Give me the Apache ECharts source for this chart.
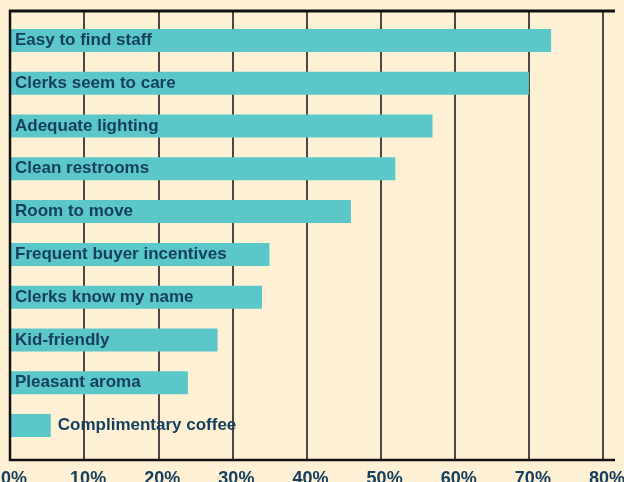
<!DOCTYPE html>
<html>
<head>
<meta charset="utf-8">
<script src="https://cdn.jsdelivr.net/npm/echarts@6/dist/echarts.min.js"></script>
<style>
  html, body { margin: 0; padding: 0; background: #fef0d4; }
  #chart { width: 624px; height: 482px; }
</style>
</head>
<body>
<div id="chart"></div>
<script>
// Store features shoppers value, share of respondents (%)
const features = [
  'Easy to find staff',
  'Clerks seem to care',
  'Adequate lighting',
  'Clean restrooms',
  'Room to move',
  'Frequent buyer incentives',
  'Clerks know my name',
  'Kid-friendly',
  'Pleasant aroma',
  'Complimentary coffee'
];
const shares = [73, 70, 57, 52, 46, 35, 34, 28, 24, 5.5];
const axisMax = 80;
const axisStep = 10;

const ink = '#173f60';
const teal = '#5bc7c9';
const font = 'Liberation Sans, Arial, sans-serif';

const chart = echarts.init(document.getElementById('chart'));

// Short bars carry their label outside, to the right
const barData = shares.map(v => ({
  value: v,
  label: v < 10
    ? { position: 'right', distance: 7 }
    : { position: 'insideLeft', distance: 5 }
}));

chart.setOption({
  backgroundColor: '#fef0d4',
  animation: false,
  grid: [
    // frame with vertical rules and percent scale
    { left: 10, right: 21, top: 11, bottom: 22, outerBoundsMode: 'none' },
    // band for the bars
    { left: 10, right: 21, top: 19, height: 428, outerBoundsMode: 'none' }
  ],
  xAxis: [
    {
      gridIndex: 0, type: 'value', min: 0, max: axisMax, interval: axisStep,
      axisLine: { show: false },
      axisTick: { show: false },
      splitLine: { show: true, lineStyle: { color: '#1e1e1e', width: 1.6 } },
      axisLabel: {
        formatter: '{value}%', color: ink, fontWeight: 'bold', fontSize: 18,
        fontFamily: font, margin: 10, padding: [0, 0, 0, 8]
      }
    },
    {
      gridIndex: 1, type: 'value', min: 0, max: axisMax, interval: axisStep,
      show: false
    }
  ],
  yAxis: [
    {
      gridIndex: 0, type: 'value', min: 0, max: 1,
      axisLine: { show: false },
      axisTick: { show: false }, axisLabel: { show: false },
      splitLine: { show: false }
    },
    {
      gridIndex: 1, type: 'category', data: features, inverse: true,
      show: false
    }
  ],
  series: [{
    type: 'bar',
    xAxisIndex: 1, yAxisIndex: 1,
    zlevel: 1,
    data: barData,
    barWidth: 23,
    itemStyle: { color: teal },
    label: {
      show: true,
      formatter: p => p.name,
      color: ink, fontWeight: 'bold', fontSize: 17,
      fontFamily: font
    }
  }],
  // frame rules: top border, baseline and left edge
  graphic: [
    { type: 'line', shape: { x1: 9, y1: 11, x2: 615, y2: 11 },
      style: { stroke: '#111', lineWidth: 3 }, zlevel: 2 },
    { type: 'line', shape: { x1: 9, y1: 460, x2: 615, y2: 460 },
      style: { stroke: '#111', lineWidth: 2.5 }, zlevel: 2 },
    { type: 'line', shape: { x1: 10, y1: 10, x2: 10, y2: 461 },
      style: { stroke: '#111', lineWidth: 2.5 }, zlevel: 2 }
  ]
});
</script>
</body>
</html>
